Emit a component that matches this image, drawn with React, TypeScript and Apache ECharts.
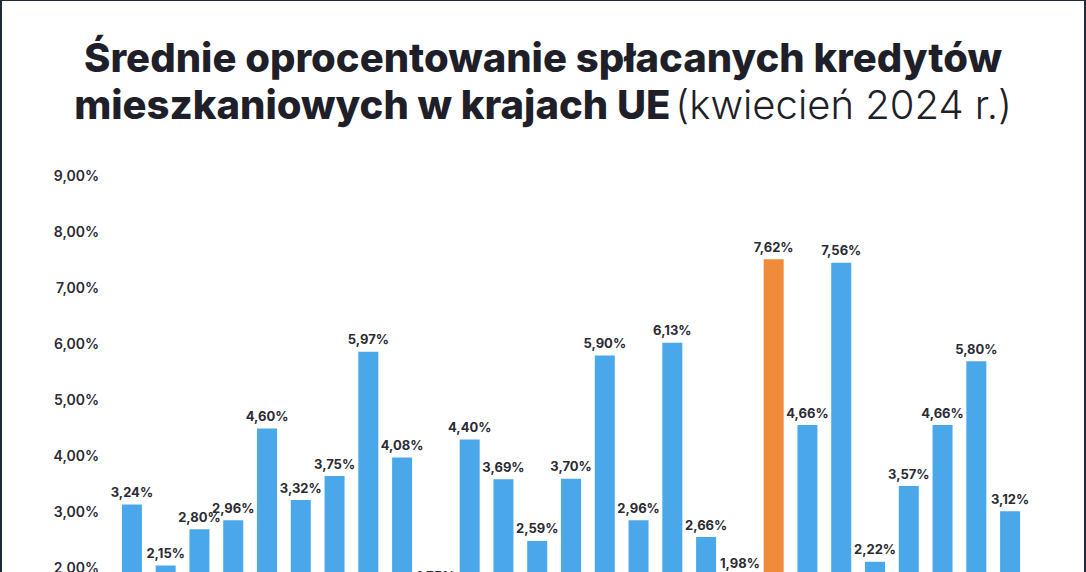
import React, { useEffect, useRef } from "react";
import * as echarts from "echarts";

const categories = [
  "Austria", "Belgia", "Bułgaria", "Chorwacja", "Cypr", "Czechy", "Dania", "Estonia", "Finlandia",
  "Francja", "Grecja", "Hiszpania", "Holandia", "Irlandia", "Litwa", "Luksemburg", "Łotwa", "Malta",
  "Niemcy", "Polska", "Portugalia", "Rumunia", "Słowacja", "Słowenia", "Szwecja", "Węgry", "Włochy",
];
const rates = [
  3.24, 2.15, 2.8, 2.96, 4.6, 3.32, 3.75, 5.97, 4.08,
  1.75, 4.4, 3.69, 2.59, 3.7, 5.9, 2.96, 6.13, 2.66,
  1.98, 7.62, 4.66, 7.56, 2.22, 3.57, 4.66, 5.8, 3.12,
];
const highlighted = "Polska";
const titleLine1 = "Średnie oprocentowanie spłacanych kredytów";
const titleLine2Bold = "mieszkaniowych w krajach UE";
const titleLine2Light = "(kwiecień 2024 r.)";

const W = 1086;
const H = 760;
const FONT = "Inter, 'Noto Sans', sans-serif";
const fmt = (v: number) => v.toFixed(2).replace(".", ",") + "%";

export default function App() {
  const ref = useRef<HTMLDivElement>(null);
  useEffect(() => {
    if (!ref.current) return;
    const chart = echarts.init(ref.current, undefined, { renderer: "svg" });
    chart.setOption({
      animation: false,
      backgroundColor: "#ffffff",
      title: {
        left: "center",
        top: 29,
        text: `{b|${titleLine1}}\n{b|${titleLine2Bold}} {l|${titleLine2Light}}`,
        textStyle: {
          rich: {
            b: { fontFamily: FONT, fontSize: 40, fontWeight: 800, color: "#1f1f2a", lineHeight: 47 },
            l: { fontFamily: FONT, fontSize: 40, fontWeight: 300, color: "#1f1f2a", lineHeight: 47 },
          },
        },
      },
      grid: { left: 115, right: W - 1027, top: 182, bottom: H - 686 },
      xAxis: {
        type: "category",
        data: categories,
        axisLine: { show: false },
        axisTick: { show: false },
        axisLabel: { show: true, fontFamily: FONT, fontSize: 12, color: "#333" },
      },
      yAxis: {
        type: "value",
        min: 0,
        max: 9,
        interval: 1,
        splitLine: { show: false },
        axisLine: { show: false },
        axisTick: { show: false },
        axisLabel: {
          formatter: (v: number) => fmt(v),
          fontFamily: FONT,
          fontSize: 14,
          fontWeight: 600,
          color: "#2b2b33",
          margin: 16,
          verticalAlign: "bottom",
        },
      },
      series: [
        {
          type: "bar",
          barWidth: 20,
          data: rates.map((v, i) => ({
            value: v,
            itemStyle: { color: categories[i] === highlighted ? "#F08B3B" : "#4AA8EA" },
          })),
          label: {
            show: true,
            position: "top",
            distance: 6,
            formatter: (p: any) => fmt(p.value),
            fontFamily: FONT,
            fontSize: 13,
            fontWeight: 700,
            color: "#2b2b33",
          },
        },
      ],
      graphic: [
        { type: "rect", left: 0, top: 0, shape: { width: 2, height: H }, style: { fill: "#1e2c39" } },
        { type: "rect", left: W - 2, top: 0, shape: { width: 2, height: H }, style: { fill: "#1e2c39" } },
        { type: "rect", left: 0, top: 0, shape: { width: W, height: 1 }, style: { fill: "#1e2c39" } },
      ],
    });
    return () => chart.dispose();
  }, []);
  return (
    <div
      ref={ref}
      style={{ position: "absolute", left: 0, top: 0, width: W, height: H }}
    />
  );
}
